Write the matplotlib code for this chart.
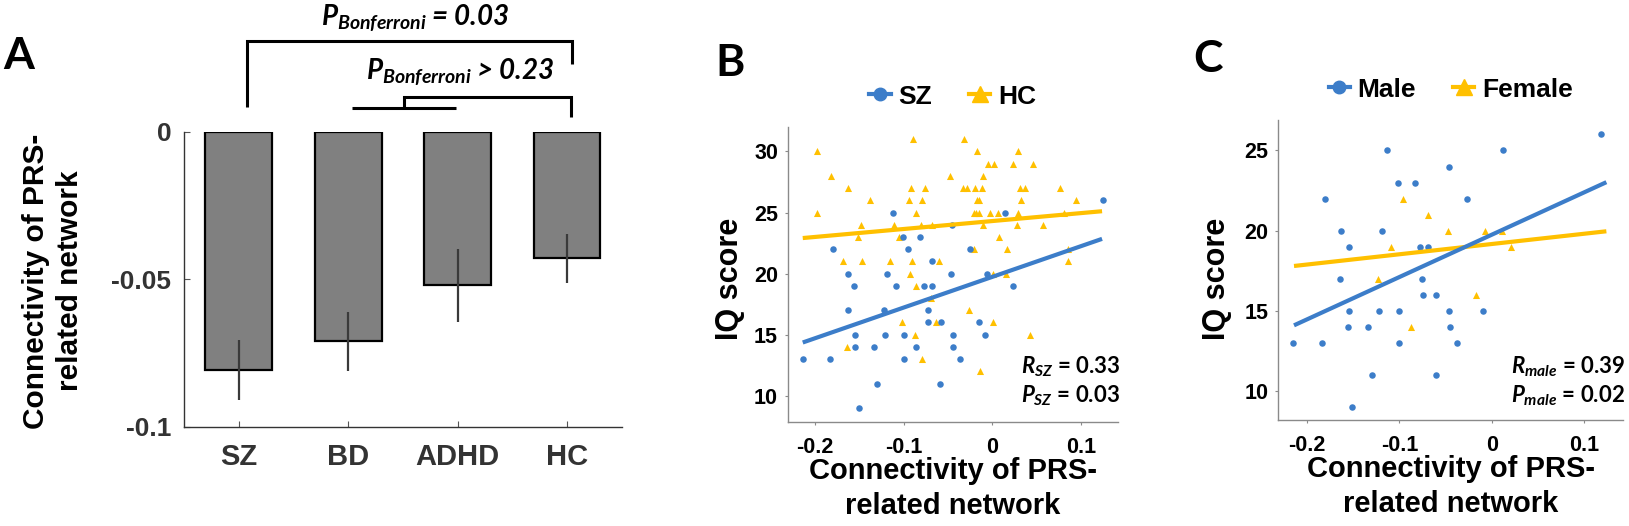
import numpy as np
import matplotlib
matplotlib.use("Agg")
import matplotlib.pyplot as plt
from matplotlib.lines import Line2D

# ---------------- data ----------------
groups = ["SZ", "BD", "ADHD", "HC"]
conn_mean = [-0.0809, -0.0710, -0.0521, -0.0429]
conn_err = [0.0102, 0.0100, 0.0123, 0.0083]

# panel B: SZ patients and healthy controls
sz_x = [-0.214, -0.183, -0.180, -0.163, -0.156, -0.163, -0.155, -0.155, -0.151, -0.134,
        -0.130, -0.122, -0.121, -0.119, -0.112, -0.109, -0.101, -0.100, -0.100, -0.095,
        -0.086, -0.082, -0.077, -0.073, -0.072, -0.068, -0.068, -0.059, -0.058, -0.047,
        -0.045, -0.044, -0.044, -0.036, -0.025, -0.015, -0.008, -0.006, 0.014, 0.023, 0.125]
sz_y = [13, 13, 22, 20, 19, 17, 15, 14, 9, 14,
        11, 17, 15, 20, 25, 19, 23, 13, 15, 22,
        14, 23, 19, 17, 16, 21, 19, 11, 16, 20,
        24, 15, 14, 13, 22, 16, 15, 20, 25, 19, 26]

hc_x = [-0.090, -0.032, -0.198, -0.017, 0.029, -0.005, 0.002, 0.023, 0.046, -0.182,
        -0.048, -0.011, -0.163, -0.092, -0.076, -0.033, -0.029, -0.019, -0.012, 0.031,
        0.037, 0.077, -0.138, -0.094, -0.079, -0.017, -0.015, 0.033, 0.095, -0.198,
        -0.086, -0.021, -0.018, -0.015, -0.003, 0.006, 0.029, 0.081, -0.148, -0.111,
        -0.080, -0.068, -0.011, 0.028, 0.057, -0.152, -0.105, 0.008, -0.021, 0.017,
        0.085, -0.169, -0.147, -0.115, -0.091, -0.060, 0.085, -0.093, 0.001, 0.015,
        -0.086, -0.069, -0.026, -0.102, -0.064, 0.001, -0.087, 0.043, -0.164, -0.079,
        -0.014]
hc_y = [31, 31, 30, 30, 30, 29, 29, 29, 29, 28,
        28, 28, 27, 27, 27, 27, 27, 27, 27, 27,
        27, 27, 26, 26, 26, 26, 26, 26, 26, 25,
        25, 25, 25, 25, 25, 25, 25, 25, 24, 24,
        24, 24, 24, 24, 24, 23, 23, 23, 22, 22,
        22, 21, 21, 21, 21, 21, 21, 20, 20, 20,
        19, 18, 17, 16, 16, 16, 15, 15, 14, 13,
        12]

# panel C: SZ patients split by sex
male_x = [-0.215, -0.184, -0.180, -0.163, -0.155, -0.164, -0.155, -0.156, -0.151, -0.134,
          -0.130, -0.122, -0.119, -0.113, -0.101, -0.100, -0.100, -0.083, -0.078, -0.075,
          -0.074, -0.069, -0.060, -0.060, -0.046, -0.046, -0.045, -0.038, -0.027, -0.010,
          0.012, 0.118]
male_y = [13, 13, 22, 20, 19, 17, 15, 14, 9, 14,
          11, 15, 20, 25, 23, 15, 13, 23, 19, 17,
          16, 19, 16, 11, 24, 15, 14, 13, 22, 15,
          25, 26]
female_x = [-0.096, -0.069, -0.047, -0.007, 0.011, -0.109, 0.021, -0.123, -0.017, -0.087]
female_y = [22, 21, 20, 20, 20, 19, 19, 17, 16, 14]

# fitted lines (slope, intercept)
fit_b = {"SZ": (25.1, 19.73), "HC": (6.5, 24.3)}
fit_c = {"Male": (26.4, 19.75), "Female": (6.4, 19.17)}
fit_range = (-0.214, 0.124)

stats_b = ["0.33", "0.03"]
stats_c = ["0.39", "0.02"]

# ---------------- style ----------------
W, H = 1629, 526
BLUE = "#3C7DC9"
GOLD = "#FFC000"
plt.rcParams["font.family"] = ["Liberation Sans", "DejaVu Sans"]
plt.rcParams["font.weight"] = "bold"
plt.rcParams["mathtext.fontset"] = "custom"
plt.rcParams["mathtext.it"] = "Lato:italic:bold"
plt.rcParams["mathtext.rm"] = "Lato:bold"
plt.rcParams["mathtext.bf"] = "Lato:bold"

fig = plt.figure(figsize=(W / 100, H / 100), dpi=100)


def fx(px):
    return px / W


def fy(py):
    return 1 - py / H


def add_axes_px(left, top, right, bottom):
    return fig.add_axes([fx(left), fy(bottom), (right - left) / W, (bottom - top) / H])


# ---------------- panel A ----------------
axA = add_axes_px(184, 131.7, 621.7, 426.7)
xpos = np.arange(1, len(groups) + 1)
axA.bar(xpos, conn_mean, width=0.61, color="#808080", edgecolor="black", linewidth=1.6, zorder=2)
axA.errorbar(xpos, conn_mean, yerr=conn_err, fmt="none", ecolor="#3a3a3a", elinewidth=1.6,
             capsize=0, zorder=3)
axA.set_xlim(0.5, 4.5)
axA.set_ylim(-0.1, 0)
axA.set_yticks([-0.1, -0.05, 0])
axA.set_yticklabels(["-0.1", "-0.05", "0"])
axA.set_xticks(xpos)
axA.set_xticklabels(groups)
for s in ["top", "right"]:
    axA.spines[s].set_visible(False)
for s in ["left", "bottom"]:
    axA.spines[s].set_color("#333333")
    axA.spines[s].set_linewidth(1.0)
axA.tick_params(axis="both", direction="in", length=4, color="#555555", labelcolor="#333333")
axA.tick_params(axis="y", labelsize=19, pad=9)
axA.tick_params(axis="x", labelsize=21, pad=12)

fig.text(fx(53), fy(281), "Connectivity of PRS-\nrelated network", rotation=90,
         ha="center", va="center", fontsize=21.5, fontweight="bold", linespacing=1.3)

# significance brackets
br_kw = dict(color="black", lw=2.2, clip_on=False, solid_capstyle="butt", solid_joinstyle="miter")
axA.plot([1.073, 1.073, 4.047, 4.047], [0.0084, 0.0308, 0.0308, 0.0229], **br_kw)
axA.plot([2.033, 2.986], [0.0079, 0.0079], **br_kw)
axA.plot([2.51, 2.51, 4.04, 4.04], [0.0079, 0.0119, 0.0119, 0.0049], **br_kw)

ann_kw = dict(fontsize=20, fontfamily="Lato", fontweight="bold", fontstyle="italic",
              va="baseline", ha="left")
fig.text(fx(321), fy(25), r"$P_{Bonferroni}$ = 0.03", **ann_kw)
fig.text(fx(366), fy(80), r"$P_{Bonferroni}$ > 0.23", **ann_kw)


# ---------------- scatter panels ----------------
def scatter_panel(ax, xa, ya, xb, yb, fits, names, ylim, yticks):
    ax.scatter(xb, yb, marker="^", s=26, color=GOLD, linewidths=0, zorder=2)
    ax.scatter(xa, ya, marker="o", s=22, color=BLUE, linewidths=0, zorder=3)
    xs = np.array(fit_range)
    sa, ia = fits[names[0]]
    sb, ib = fits[names[1]]
    ax.plot(xs, sb * xs + ib, color=GOLD, lw=3, zorder=4, solid_capstyle="butt")
    ax.plot(xs, sa * xs + ia, color=BLUE, lw=3, zorder=5, solid_capstyle="butt")
    ax.set_xlim(-0.231, 0.142)
    ax.set_ylim(*ylim)
    ax.set_xticks([-0.2, -0.1, 0, 0.1])
    ax.set_xticklabels(["-0.2", "-0.1", "0", "0.1"])
    ax.set_yticks(yticks)
    for s in ["top", "right"]:
        ax.spines[s].set_visible(False)
    for s in ["left", "bottom"]:
        ax.spines[s].set_color("#8a8a8a")
        ax.spines[s].set_linewidth(1.0)
    ax.tick_params(axis="both", direction="out", length=2, color="#8a8a8a",
                   labelsize=15.5, labelcolor="black")
    ax.tick_params(axis="x", pad=9)
    ax.tick_params(axis="y", pad=5)
    ax.set_xlabel("Connectivity of PRS-\nrelated network", fontsize=21, fontweight="bold",
                  labelpad=-1, linespacing=1.33)
    handles = [
        Line2D([], [], color=BLUE, marker="o", markersize=9, lw=3),
        Line2D([], [], color=GOLD, marker="^", markersize=11, lw=3),
    ]
    ax.legend(handles, names, loc="lower center", bbox_to_anchor=(0.5, 1.0), ncol=2,
              frameon=False, fontsize=19, handlelength=0.8, handletextpad=0.3,
              columnspacing=1.4, borderaxespad=0.3)


axB = add_axes_px(787.7, 127, 1118, 422)
scatter_panel(axB, sz_x, sz_y, hc_x, hc_y, fit_b, ["SZ", "HC"], (7.85, 32), [10, 15, 20, 25, 30])
fig.text(fx(730), fy(279), "IQ score", rotation=90, ha="center", va="center",
         fontsize=22, fontweight="bold")

axC = add_axes_px(1278.3, 120, 1623, 420)
scatter_panel(axC, male_x, male_y, female_x, female_y, fit_c, ["Male", "Female"], (8.2, 26.9),
              [10, 15, 20, 25])
fig.text(fx(1217), fy(279), "IQ score", rotation=90, ha="center", va="center",
         fontsize=22, fontweight="bold")

st_kw = dict(fontsize=16, fontfamily="Lato", fontweight="bold", ha="right", va="baseline")
fig.text(fx(1120), fy(373), r"$R_{SZ}$ = " + stats_b[0], **st_kw)
fig.text(fx(1120), fy(402), r"$P_{SZ}$ = " + stats_b[1], **st_kw)
fig.text(fx(1625), fy(373), r"$R_{male}$ = " + stats_c[0], **st_kw)
fig.text(fx(1625), fy(402), r"$P_{male}$ = " + stats_c[1], **st_kw)

# panel letters
lab_kw = dict(fontsize=32, fontfamily="Lato", fontweight="bold", va="top", ha="left")
fig.text(fx(3), fy(36), "A", **lab_kw)
fig.text(fx(715), fy(43), "B", **lab_kw)
fig.text(fx(1193), fy(39), "C", **lab_kw)

fig.savefig("out.png", dpi=100)
